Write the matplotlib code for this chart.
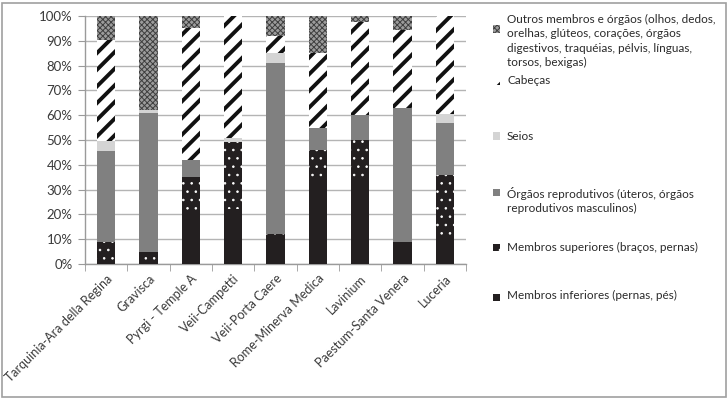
import numpy as np
import matplotlib
matplotlib.use("Agg")
import matplotlib.pyplot as plt
from matplotlib.patches import Rectangle
from matplotlib.ticker import FixedLocator, PercentFormatter

# Dados (percentagens)
sitios = ["Tarquinia-Ara della Regina", "Gravisca", "Pyrgi - Temple A", "Veii-Campetti",
          "Veii-Porta Caere", "Rome-Minerva Medica", "Lavinium", "Paestum-Santa Venera", "Luceria"]

inferiores   = [0, 0, 21, 22, 11, 33, 34, 9, 10]
superiores   = [9, 5, 14, 27, 1, 13, 16, 0, 26]
reprodutivos = [36.5, 56, 7, 0, 69, 9, 10, 54, 21]
seios        = [4, 1, 0, 2, 4, 0, 0, 0, 3.5]
cabecas      = [41, 0, 53, 49, 7, 30, 37.5, 31.5, 39.5]
outros       = [9.5, 38, 5, 0, 8, 15, 2.5, 5.5, 0]

legendas = [
    "Membros inferiores (pernas, pés)",
    "Membros superiores (braços, pernas)",
    "Órgãos reprodutivos (úteros, órgãos\nreprodutivos masculinos)",
    "Seios",
    "Cabeças",
    "Outros membros e órgãos (olhos, dedos,\norelhas, glúteos, corações, órgãos\ndigestivos, traquéias, pélvis, línguas,\ntorsos, bexigas)",
]

series = [inferiores, superiores, reprodutivos, seios, cabecas, outros]

# estilo de cada série: (face, cor do hatch, hatch, espessura do hatch)
estilos = [
    ("#231f20", "#231f20", None, 0.5),
    ("#231f20", "#ffffff", "..", 0.6),
    ("#808080", "#808080", None, 0.5),
    ("#d4d4d4", "#d4d4d4", None, 0.5),
    ("#ffffff", "#111111", "//", 2.8),
    ("#9c9c9c", "#3e3e3e", "xxxxxx", 0.7),
]

W, H = 728, 399
fig = plt.figure(figsize=(W / 100, H / 100), dpi=100)
ax = fig.add_axes([85 / W, 1 - 264 / H, (466 - 85) / W, (264 - 16) / H])

x = np.arange(len(sitios))
base = np.zeros(len(sitios))
for vals, (fc, hc, hatch, hlw) in zip(series, estilos):
    with plt.rc_context({"hatch.linewidth": hlw}):
        barras = ax.bar(x, vals, 0.43, bottom=base, color=fc, edgecolor=hc,
                        hatch=hatch, linewidth=0, zorder=3)
    for b in barras:
        if hasattr(b, "set_hatch_linewidth"):
            b.set_hatch_linewidth(hlw)
    base = base + np.array(vals)

ax.set_xlim(-0.5, len(sitios) - 0.5)
ax.set_ylim(0, 100)
ax.yaxis.set_major_locator(FixedLocator(np.arange(0, 101, 10)))
ax.yaxis.set_major_formatter(PercentFormatter(decimals=0))
ax.grid(axis="y", color="#b4b4b4", linewidth=1.0, zorder=0)

for s in ["top", "right"]:
    ax.spines[s].set_visible(False)
for s in ["left", "bottom"]:
    ax.spines[s].set_color("#9a9a9a")
    ax.spines[s].set_linewidth(1.0)

ax.set_xticks(x)
ax.set_xticklabels(sitios, rotation=45, ha="right", rotation_mode="anchor",
                   fontsize=9, family="Lato", color="#3a3a3a")
ax.tick_params(axis="x", which="major", length=0, pad=6)
ax.set_xticks(np.arange(-0.5, len(sitios), 1), minor=True)
ax.tick_params(axis="x", which="minor", length=5, color="#9a9a9a", direction="out")
ax.tick_params(axis="y", length=5, color="#9a9a9a", direction="out", pad=4,
               labelsize=9.5, labelcolor="#3a3a3a")
for t in ax.get_yticklabels():
    t.set_family("Lato")

# Legenda (manual, à direita)
leg_y = [297, 247, 193, 136, 81, 29]
txt_y = [295, 247, 200.5, 136, 81, 41]
for (fc, hc, hatch, hlw), lab, my, ty in zip(estilos, legendas, leg_y, txt_y):
    with plt.rc_context({"hatch.linewidth": min(hlw, 1.6)}):
        r = Rectangle((493 / W, 1 - (my + 3.5) / H), 7 / W, 7 / H, transform=fig.transFigure,
                      facecolor=fc, edgecolor=hc, hatch=hatch, linewidth=0)
    if hasattr(r, "set_hatch_linewidth"):
        r.set_hatch_linewidth(min(hlw, 1.6))
    fig.add_artist(r)
    fig.text(507 / W, 1 - ty / H, lab, ha="left", va="center", fontsize=8.5,
             family="Lato", color="#2a2a2a", linespacing=1.35)

# moldura da figura
fig.add_artist(Rectangle((2 / W, 2 / H), (W - 4) / W, (H - 5) / H, transform=fig.transFigure,
                         fill=False, edgecolor="#a0a0a0", linewidth=1.2))

plt.savefig("out.png", dpi=100)
